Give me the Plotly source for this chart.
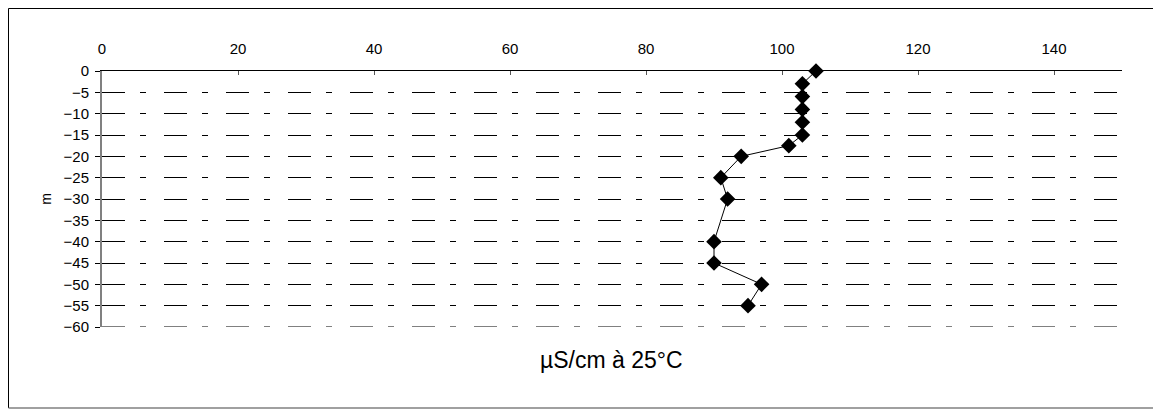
import plotly.graph_objects as go

# Data
conductivity = [105, 103, 103, 103, 103, 103, 101, 94, 91, 92, 90, 90, 97, 95]
depth = [0, -3, -6, -9, -12, -15, -17.5, -20, -25, -30, -40, -45, -50, -55]
x_title = "µS/cm à 25°C"
y_title = "m"

OFF = 8  # page body margin
W, H = 1161 - OFF, 409 - OFF
# plot area in screen pixels: x 102..1122, y 71..327
L, T = 102 - OFF, 71 - OFF
R = W - (1122 - OFF)
B = H - (327 - OFF)
pw, ph = W - L - R, H - T - B

def px2u(px):
    return (px - OFF - L) / pw

def py2v(py):
    return 1 - (py - OFF - T) / ph

font = "Liberation Sans, Arial, sans-serif"
dash = "23px,15px,6px,18px"

fig = go.Figure()
fig.add_trace(go.Scatter(
    x=conductivity, y=depth, mode="lines+markers",
    line=dict(color="black", width=1),
    marker=dict(symbol="diamond", size=12, color="black"),
    showlegend=False, cliponaxis=False,
))

fig.update_layout(
    width=W, height=H,
    margin=dict(l=L, r=R, t=T, b=B, autoexpand=False),
    paper_bgcolor="white", plot_bgcolor="white",
    font=dict(family=font, size=15, color="black"),
    xaxis=dict(
        side="top", range=[0, 150], tick0=0, dtick=20,
        showline=True, linecolor="black", linewidth=1,
        ticks="inside", ticklen=4, tickcolor="#555555", tickwidth=1,
        showgrid=False, zeroline=False, ticklabelstandoff=10,
        tickfont=dict(size=15),
    ),
    yaxis=dict(
        range=[-60, 0], tick0=0, dtick=5,
        showline=True, linecolor="#808080", linewidth=2,
        ticks="outside", ticklen=5, tickcolor="black", tickwidth=1,
        showgrid=True, gridcolor="black", gridwidth=1,
        griddash=dash,
        zeroline=False, ticklabelstandoff=3,
        tickfont=dict(size=15),
        title=dict(text=y_title, standoff=9, font=dict(size=14)),
    ),
    annotations=[dict(
        text=x_title, xref="paper", yref="paper",
        x=px2u(611), y=py2v(360), xanchor="center", yanchor="middle",
        showarrow=False, font=dict(size=23, family=font),
    )],
    shapes=[
        dict(type="line", xref="paper", yref="y", layer="below",
             x0=0, x1=1, y0=-60, y1=-60,
             line=dict(color="black", width=1, dash=dash)),
        dict(type="line", xref="paper", yref="paper",
             x0=px2u(8.5), x1=px2u(1170), y0=py2v(8.5), y1=py2v(8.5),
             line=dict(color="black", width=1)),
        dict(type="line", xref="paper", yref="paper",
             x0=px2u(8.5), x1=px2u(8.5), y0=py2v(8.5), y1=py2v(408),
             line=dict(color="black", width=1)),
        dict(type="line", xref="paper", yref="paper",
             x0=px2u(8.5), x1=px2u(1170), y0=py2v(408), y1=py2v(408),
             line=dict(color="#808080", width=1.5)),
    ],
)

fig.write_html("out.html")
